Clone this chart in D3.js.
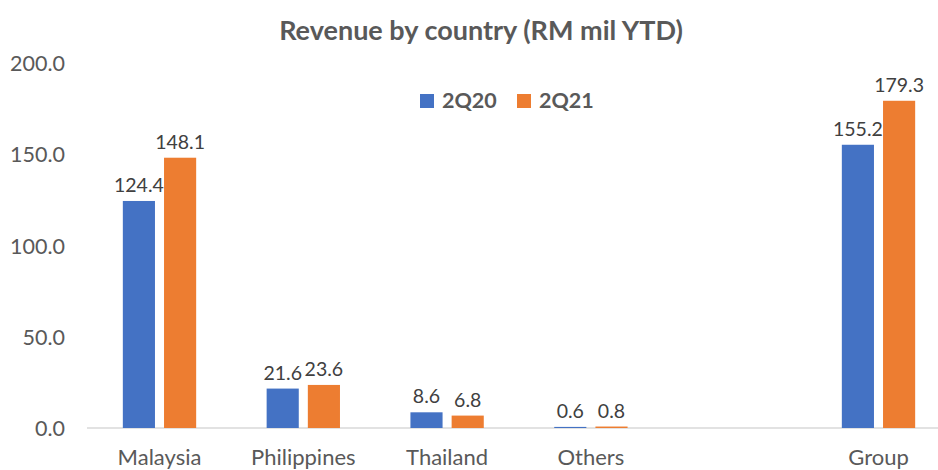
<!DOCTYPE html>
<meta charset="utf-8">
<style>
body { margin: 0; background: #fff; }
text { font-family: Lato, "Open Sans", sans-serif; }
</style>

<svg width="938" height="470"></svg>

<script src="https://d3js.org/d3.v7.min.js"></script>
<script>

var categories = ["Malaysia", "Philippines", "Thailand", "Others", "", "Group"];
var series = ["2Q20", "2Q21"];
var q220 = [124.4, 21.6, 8.6, 0.6, null, 155.2];
var q221 = [148.1, 23.6, 6.8, 0.8, null, 179.3];
var yTicks = [0, 50, 100, 150, 200];
var colors = ["#4472c4", "#ed7d31"];

var svg = d3.select("svg");

var x0 = d3.scaleBand().domain(categories).range([87.6, 950.4]).paddingInner(0.49).paddingOuter(0.245);
var x1 = d3.scaleBand().domain(series).range([0, x0.bandwidth()]).paddingInner(0.22);
var y = d3.scaleLinear().domain([0, 200]).range([428, 63]);

// title
svg.append("text")
    .attr("x", 481).attr("y", 40)
    .attr("text-anchor", "middle")
    .attr("font-size", 27).attr("font-weight", "bold")
    .attr("fill", "#595959")
    .text("Revenue by country (RM mil YTD)");

// y axis labels
svg.append("g").selectAll("text")
    .data(yTicks)
  .enter().append("text")
    .attr("x", 65).attr("y", d => y(d) + 8)
    .attr("text-anchor", "end")
    .attr("font-size", 21.5).attr("fill", "#595959")
    .text(d => d.toFixed(1));

// baseline
svg.append("line")
    .attr("x1", 87).attr("x2", 938)
    .attr("y1", y(0)).attr("y2", y(0))
    .attr("stroke", "#d9d9d9").attr("stroke-width", 1.5);

var rows = categories.map((c, i) => ({cat: c, vals: [q220[i], q221[i]]}));

var groups = svg.append("g").selectAll("g")
    .data(rows)
  .enter().append("g")
    .attr("transform", d => "translate(" + x0(d.cat) + ",0)");

var cells = groups.selectAll("g")
    .data(d => d.vals.map((v, j) => ({s: series[j], v: v, j: j})).filter(e => e.v != null))
  .enter().append("g");

cells.append("rect")
    .attr("x", d => x1(d.s))
    .attr("width", x1.bandwidth())
    .attr("y", d => y(d.v))
    .attr("height", d => y(0) - y(d.v))
    .attr("fill", d => colors[d.j]);

cells.append("text")
    .attr("x", d => x1(d.s) + x1.bandwidth() / 2)
    .attr("y", d => y(d.v) - 9)
    .attr("text-anchor", "middle")
    .attr("font-size", 19.5).attr("fill", "#404040")
    .text(d => d.v.toFixed(1));

// category labels
svg.append("g").selectAll("text")
    .data(categories)
  .enter().append("text")
    .attr("x", d => x0(d) + x0.bandwidth() / 2)
    .attr("y", 465)
    .attr("text-anchor", "middle")
    .attr("font-size", 22).attr("fill", "#595959")
    .text(d => d);

// legend
var legend = svg.append("g").selectAll("g")
    .data(series)
  .enter().append("g")
    .attr("transform", (d, i) => "translate(" + (420 + i * 97) + ",94)");

legend.append("rect")
    .attr("width", 14).attr("height", 14)
    .attr("fill", (d, i) => colors[i]);

legend.append("text")
    .attr("x", 22).attr("y", 14)
    .attr("font-size", 21.5).attr("font-weight", "bold")
    .attr("fill", "#595959")
    .text(d => d);

</script>
